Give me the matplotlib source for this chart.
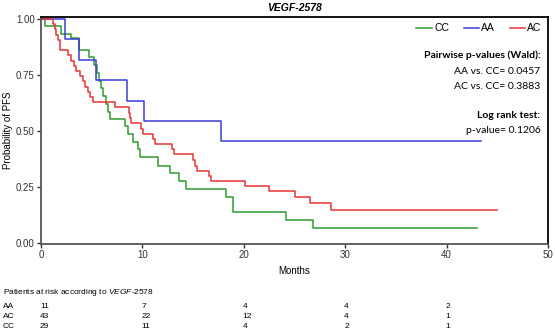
import numpy as np
import matplotlib
matplotlib.use("Agg")
import matplotlib.pyplot as plt
from matplotlib.lines import Line2D
import matplotlib.transforms as mtrans

plt.rcParams['font.family'] = ['Liberation Sans', 'DejaVu Sans']
plt.rcParams['mathtext.fontset'] = 'custom'
plt.rcParams['mathtext.it'] = 'Liberation Sans:italic'
plt.rcParams['mathtext.rm'] = 'Liberation Sans'

# Kaplan-Meier step data (event times in months, survival after the step)
cc_times = [0, 0.4, 2.0, 3.0, 3.7, 4.7, 5.2, 5.5, 5.7, 5.9, 6.1, 6.4, 6.6, 6.8, 8.3, 8.6,
            9.1, 9.6, 9.8, 11.5, 12.7, 13.6, 14.3, 18.2, 18.9, 24.2, 26.8, 43.0]
cc_surv = [1.0, 0.966, 0.931, 0.914, 0.862, 0.828, 0.793, 0.759, 0.724, 0.690, 0.655, 0.621,
           0.586, 0.552, 0.522, 0.487, 0.452, 0.418, 0.383, 0.345, 0.311, 0.276, 0.242,
           0.207, 0.138, 0.104, 0.069, 0.069]

aa_times = [0, 2.4, 3.7, 5.4, 8.5, 10.2, 17.8, 43.4]
aa_surv = [1.0, 0.909, 0.818, 0.727, 0.636, 0.545, 0.4545, 0.4545]

ac_times = [0, 1.2, 1.4, 1.5, 1.7, 1.9, 2.7, 3.0, 3.3, 3.5, 3.8, 4.1, 4.3, 4.6, 4.8, 5.1,
            7.3, 8.7, 8.8, 8.9, 9.9, 10.1, 11.0, 11.2, 12.9, 13.1, 15.0, 15.2, 15.4, 16.6,
            16.8, 20.1, 22.5, 25.0, 26.5, 28.6, 45.0]
ac_surv = [1.0, 0.977, 0.953, 0.930, 0.907, 0.860, 0.837, 0.814, 0.791, 0.767, 0.744, 0.721,
           0.698, 0.674, 0.651, 0.628, 0.605, 0.581, 0.558, 0.535, 0.510, 0.487, 0.465,
           0.442, 0.419, 0.396, 0.370, 0.346, 0.323, 0.300, 0.277, 0.254, 0.231, 0.208,
           0.181, 0.150, 0.150]

# patients at risk table
risk_times = [0, 10, 20, 30, 40]
risk_groups = ['AA', 'AC', 'CC']
risk_aa = [11, 7, 4, 4, 2]
risk_ac = [43, 22, 12, 4, 1]
risk_cc = [29, 11, 4, 2, 1]

green = '#2f9a2f'
blue = '#3a3ad8'
red = '#e83434'

fig = plt.figure(figsize=(5.55, 3.32), dpi=100)
ax = fig.add_axes([41 / 555, 1 - 244 / 332, 507 / 555, 227 / 332])

ax.step(cc_times, cc_surv, where='post', color=green, lw=1.1)
ax.step(aa_times, aa_surv, where='post', color=blue, lw=1.1)
ax.step(ac_times, ac_surv, where='post', color=red, lw=1.1)

ax.set_xlim(0, 50)
ax.set_ylim(-0.003, 1.008)
ax.set_xticks([0, 10, 20, 30, 40, 50])
ax.set_yticks([0, 0.25, 0.5, 0.75, 1.0])
ax.set_yticklabels(['0.00', '0.25', '0.50', '0.75', '1.00'])
ax.tick_params(labelsize=7, length=3, width=1, colors='#333333', pad=1.5)
for side in ['left', 'bottom']:
    ax.spines[side].set_color('#555555')
    ax.spines[side].set_linewidth(1.3)
for side in ['top', 'right']:
    ax.spines[side].set_color('black')
    ax.spines[side].set_linewidth(1.3)

ax.set_xlabel('Months', fontsize=7, labelpad=4)
ax.set_ylabel('Probability of PFS', fontsize=7, labelpad=2)
ax.set_title('VEGF-2578', fontsize=7.5, fontweight='bold', style='italic', pad=4)

handles = [Line2D([], [], color=green, lw=1.1),
           Line2D([], [], color=blue, lw=1.1),
           Line2D([], [], color=red, lw=1.1)]
ax.legend(handles, ['CC', 'AA', 'AC'], loc='upper right', ncol=3, frameon=False,
          fontsize=7.5, handlelength=1.5, handletextpad=0.2, columnspacing=1.4,
          borderaxespad=0.2, bbox_to_anchor=(1.0, 1.0))

note_font = ['Lato', 'DejaVu Sans']
ax.text(0.985, 0.83, 'Pairwise p-values (Wald):', transform=ax.transAxes, ha='right',
        va='center', fontsize=7.5, fontweight='bold', family=note_font)
ax.text(0.985, 0.76, 'AA vs. CC= 0.0457', transform=ax.transAxes, ha='right',
        va='center', fontsize=7.5, family=note_font)
ax.text(0.985, 0.693, 'AC vs. CC= 0.3883', transform=ax.transAxes, ha='right',
        va='center', fontsize=7.5, family=note_font)
ax.text(0.985, 0.568, 'Log rank test:', transform=ax.transAxes, ha='right',
        va='center', fontsize=7.5, fontweight='bold', family=note_font)
ax.text(0.985, 0.5, 'p-value= 0.1206', transform=ax.transAxes, ha='right',
        va='center', fontsize=7.5, family=note_font)

# at-risk table below the axes
fig.text(3 / 555, 1 - 293 / 332, r'Patients at risk according to $\it{VEGF}$-2578',
         fontsize=6, va='center', ha='left')

trans = mtrans.blended_transform_factory(ax.transData, fig.transFigure)
rows_y = [306, 316, 326]
for name, counts, yp in zip(risk_groups, [risk_aa, risk_ac, risk_cc], rows_y):
    fig.text(3 / 555, 1 - yp / 332, name, fontsize=6, va='center', ha='left')
    for t, n in zip(risk_times, counts):
        fig.text(t - 0.1, 1 - yp / 332, str(n), fontsize=6, va='center', ha='left',
                 transform=trans)

fig.savefig('out.png', dpi=100)
